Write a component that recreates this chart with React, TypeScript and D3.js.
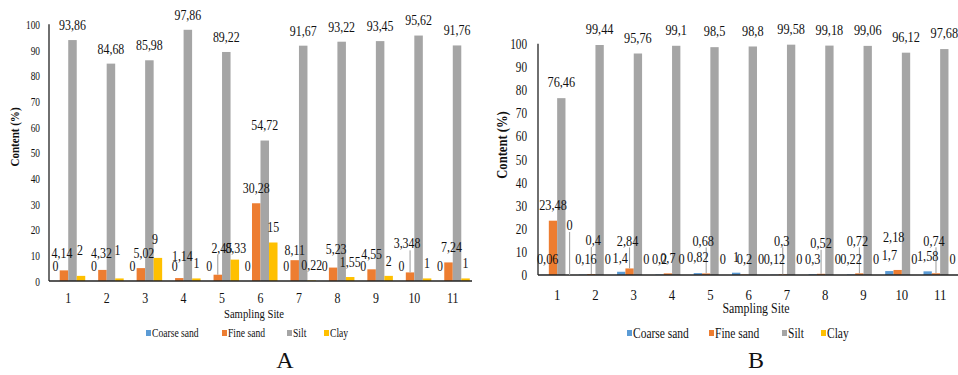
import React from "react";
import * as d3 from "d3";

// Sampling sites and particle-size classes
const sites = ["1", "2", "3", "4", "5", "6", "7", "8", "9", "10", "11"];
const seriesNames = ["Coarse sand", "Fine sand", "Silt", "Clay"];
const seriesColors = ["#5B9BD5", "#ED7D31", "#A5A5A5", "#FFC000"];
const yTicks = [0, 10, 20, 30, 40, 50, 60, 70, 80, 90, 100];

// Panel A (%)
const coarseA = [0, 0, 0, 0, 0, 0, 0, 0, 0, 0, 0];
const fineA = [4.14, 4.32, 5.02, 1.14, 2.45, 30.28, 8.11, 5.23, 4.55, 3.348, 7.24];
const siltA = [93.86, 84.68, 85.98, 97.86, 89.22, 54.72, 91.67, 93.22, 93.45, 95.62, 91.76];
const clayA = [2, 1, 9, 1, 8.33, 15, 0.22, 1.55, 2, 1, 1];

// Panel B (%)
const coarseB = [0.06, 0.16, 1.4, 0.2, 0.82, 1, 0.12, 0.3, 0.22, 1.7, 1.58];
const fineB = [23.48, 0.4, 2.84, 0.7, 0.68, 0.2, 0.3, 0.52, 0.72, 2.18, 0.74];
const siltB = [76.46, 99.44, 95.76, 99.1, 98.5, 98.8, 99.58, 99.18, 99.06, 96.12, 97.68];
const clayB = [0, 0, 0, 0, 0, 0, 0, 0, 0, 0, 0];

// Data-label nudges keyed "site-series": [dx, dy, leader line]
type Nudge = [number, number, boolean?];
const nudgesA: Record<string, Nudge> = {
  "0-1": [-2, -2], "0-3": [-1, -11], "1-1": [-1, -2], "1-3": [-2, -13],
  "2-1": [3, 0], "2-3": [-3, -4], "3-0": [4, 0], "3-1": [3, -7],
  "4-1": [4, -12, true], "4-3": [1, 3], "6-1": [0, 5], "7-1": [3, -3],
  "9-1": [-3, -14, true], "10-1": [3, 0],
};
const nudgesB: Record<string, Nudge> = {
  "0-0": [3, 0], "0-3": [0, -34, true], "1-0": [3, 0], "1-1": [2, -18, true],
  "2-0": [-1, 2], "2-1": [-2, -12, true], "3-3": [-3, 0], "4-1": [-3, -17, true],
  "6-1": [-1, -18, true], "7-1": [0, -15, true], "8-1": [-2, -17, true],
  "9-1": [-4, -17], "10-1": [-2, -17, true],
};

const FONT = "Liberation Serif, Times New Roman, Times, serif";
const fmt = (v: number) => String(v).replace(".", ",");

type PanelProps = {
  values: number[][];
  nudges: Record<string, Nudge>;
  x0: number; x1: number; yBase: number; yTop: number;
  barPad: number; labelGap: number; labelSize: number; labelSx: number;
  tickSize: number; tickSx: number; tickGap: number;
  xTickY: number; xTickSize: number; xTickSx: number;
  titleX: number; titleY: number; titleSize: number; titleSx: number;
  siteTitleX: number; siteTitleY: number; siteTitleSize: number; siteTitleSx: number;
  legendX: number[]; legendY: number; legendSize: number; legendSx: number;
  letter: string; letterX: number; letterBaseline: number;
};

function CondText(props: { x: number; y: number; sx: number; size: number; anchor?: string; children: React.ReactNode; weight?: string; rotate?: number; dy?: string }) {
  const { x, y, sx, size, anchor = "middle", children, weight = "normal", rotate = 0, dy = "0.35em" } = props;
  return (
    <text
      transform={`translate(${x},${y}) rotate(${rotate}) scale(${sx},1)`}
      textAnchor={anchor}
      dy={dy}
      style={{ fontFamily: FONT, fontSize: size, fontWeight: weight as any }}
      fill="#111"
    >
      {children}
    </text>
  );
}

function Panel(p: PanelProps) {
  const x = d3.scaleBand<string>().domain(sites).range([p.x0, p.x1]).paddingInner(0).paddingOuter(0);
  const inner = d3.scaleBand<string>().domain(seriesNames).range([0, x.bandwidth()]).paddingInner(0).paddingOuter(p.barPad);
  const y = d3.scaleLinear().domain([0, 100]).range([p.yBase, p.yTop]);

  const bars: React.ReactNode[] = [];
  const leaders: React.ReactNode[] = [];
  const labels: React.ReactNode[] = [];
  sites.forEach((s, i) => {
    seriesNames.forEach((name, j) => {
      const v = p.values[j][i];
      const bx = (x(s) ?? 0) + (inner(name) ?? 0);
      const bw = inner.bandwidth();
      const top = y(v);
      bars.push(
        <rect key={`b${i}-${j}`} x={bx} y={top} width={bw} height={p.yBase - top} fill={seriesColors[j]} />
      );
      const nd = p.nudges[`${i}-${j}`] || [0, 0, false];
      const cx = bx + bw / 2;
      const lx = cx + nd[0];
      const ly = top - p.labelGap + nd[1];
      if (nd[2]) {
        leaders.push(
          <line key={`l${i}-${j}`} x1={cx} y1={ly + 7} x2={cx} y2={top} stroke="#9a9a9a" strokeWidth={1} />
        );
      }
      labels.push(
        <CondText key={`t${i}-${j}`} x={lx} y={ly} sx={p.labelSx} size={p.labelSize}>
          {fmt(v)}
        </CondText>
      );
    });
  });

  return (
    <g>
      {bars}
      {/* axes */}
      <line x1={p.x0} y1={p.yTop} x2={p.x0} y2={p.yBase} stroke="#222" strokeWidth={1.3} />
      <line x1={p.x0} y1={p.yBase} x2={p.x1} y2={p.yBase} stroke="#222" strokeWidth={1.6} />
      {yTicks.map((t) => (
        <CondText key={`yt${t}`} x={p.x0 - p.tickGap} y={y(t)} sx={p.tickSx} size={p.tickSize} anchor="end">
          {t}
        </CondText>
      ))}
      {sites.map((s) => (
        <CondText key={`xt${s}`} x={(x(s) ?? 0) + x.bandwidth() / 2} y={p.xTickY} sx={p.xTickSx} size={p.xTickSize}>
          {s}
        </CondText>
      ))}
      {leaders}
      {labels}
      <CondText x={p.titleX} y={p.titleY} sx={p.titleSx} size={p.titleSize} rotate={-90} weight="bold">
        Content (%)
      </CondText>
      <CondText x={p.siteTitleX} y={p.siteTitleY} sx={p.siteTitleSx} size={p.siteTitleSize}>
        Sampling Site
      </CondText>
      {seriesNames.map((name, j) => (
        <g key={`lg${j}`}>
          <rect x={p.legendX[j]} y={p.legendY - 3} width={5} height={6} fill={seriesColors[j]} />
          <CondText x={p.legendX[j] + 6} y={p.legendY} sx={p.legendSx} size={p.legendSize} anchor="start">
            {name}
          </CondText>
        </g>
      ))}
      <CondText x={p.letterX} y={p.letterBaseline} sx={1} size={24} dy="0">
        {p.letter}
      </CondText>
    </g>
  );
}

export default function App() {
  return (
    <svg width={958} height={375} style={{ position: "absolute", left: 0, top: 0, background: "#fff" }}>
      <rect width={958} height={375} fill="#fff" />
      <Panel
        values={[coarseA, fineA, siltA, clayA]}
        nudges={nudgesA}
        x0={49} x1={472} yBase={281} yTop={24.3}
        barPad={0.26} labelGap={15} labelSize={14} labelSx={0.85}
        tickSize={13} tickSx={0.72} tickGap={9}
        xTickY={298} xTickSize={14} xTickSx={0.85}
        titleX={14} titleY={137} titleSize={13} titleSx={0.85}
        siteTitleX={254} siteTitleY={313} siteTitleSize={13} siteTitleSx={0.82}
        legendX={[146, 222, 287, 324]}
        legendY={333} legendSize={12} legendSx={0.8}
        letter="A" letterX={285} letterBaseline={368}
      />
      <Panel
        values={[coarseB, fineB, siltB, clayB]}
        nudges={nudgesB}
        x0={538} x1={959.3} yBase={275} yTop={43.7}
        barPad={0.3} labelGap={16} labelSize={15} labelSx={0.82}
        tickSize={15} tickSx={0.75} tickGap={11}
        xTickY={295} xTickSize={15} xTickSx={0.85}
        titleX={502} titleY={145} titleSize={14} titleSx={0.9}
        siteTitleX={756} siteTitleY={308} siteTitleSize={14} siteTitleSx={0.85}
        legendX={[627, 709, 782, 821]}
        legendY={333} legendSize={14} legendSx={0.82}
        letter="B" letterX={756} letterBaseline={368}
      />
    </svg>
  );
}
